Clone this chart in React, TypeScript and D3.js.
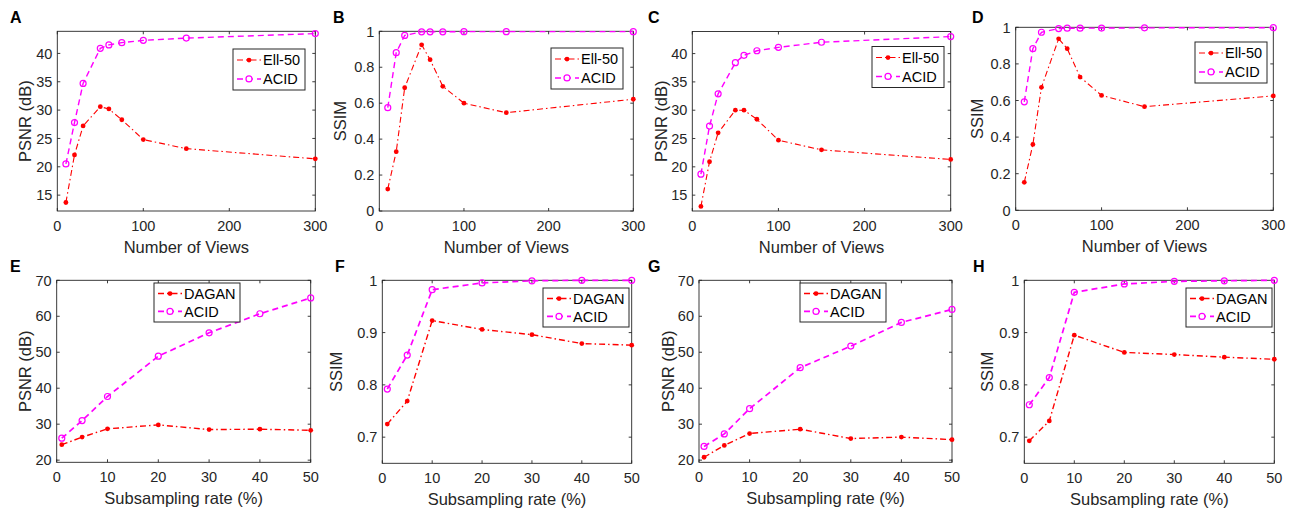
import React from 'react';
import * as d3 from 'd3';

// x values
const views = [10, 20, 30, 50, 60, 75, 100, 150, 300];
const rates = [1, 5, 10, 20, 30, 40, 50];

// A / C : PSNR vs views
const psnrEllA = [13.7, 22.1, 27.2, 30.6, 30.2, 28.3, 24.8, 23.2, 21.4];
const psnrAcidA = [20.5, 27.8, 34.7, 40.9, 41.5, 41.9, 42.3, 42.7, 43.5];
const psnrEllC = [13.0, 20.9, 26.0, 30.0, 30.0, 28.4, 24.7, 23.0, 21.3];
const psnrAcidC = [18.7, 27.2, 32.9, 38.4, 39.7, 40.5, 41.1, 42.0, 43.0];

// B / D : SSIM vs views
const ssimEllB = [0.122, 0.33, 0.686, 0.925, 0.842, 0.694, 0.6, 0.547, 0.622];
const ssimAcidB = [0.575, 0.881, 0.977, 0.997, 0.997, 0.997, 0.998, 0.998, 0.998];
const ssimEllD = [0.153, 0.36, 0.672, 0.937, 0.883, 0.728, 0.628, 0.566, 0.625];
const ssimAcidD = [0.593, 0.883, 0.973, 0.993, 0.995, 0.995, 0.996, 0.997, 0.998];

// E / G : PSNR vs subsampling
const psnrDaganE = [24.3, 26.4, 28.7, 29.8, 28.5, 28.6, 28.3];
const psnrAcidE = [26.1, 31.0, 37.7, 48.9, 55.4, 60.7, 65.1];
const psnrDaganG = [20.8, 24.1, 27.4, 28.6, 26.0, 26.4, 25.7];
const psnrAcidG = [23.8, 27.3, 34.3, 45.7, 51.7, 58.3, 61.9];

// F / H : SSIM vs subsampling
const ssimDaganF = [0.725, 0.769, 0.923, 0.906, 0.896, 0.879, 0.876];
const ssimAcidF = [0.792, 0.857, 0.982, 0.995, 0.999, 1.0, 1.0];
const ssimDaganH = [0.693, 0.731, 0.895, 0.862, 0.858, 0.853, 0.849];
const ssimAcidH = [0.762, 0.814, 0.977, 0.993, 0.998, 0.999, 1.0];

const viewTicks = [0, 100, 200, 300];
const rateTicks = [0, 10, 20, 30, 40, 50];
const psnrTicksTop = [15, 20, 25, 30, 35, 40];
const psnrTicksBottom = [20, 30, 40, 50, 60, 70];
const ssimTicksTop = [0, 0.2, 0.4, 0.6, 0.8, 1];
const ssimTicksBottom = [0.7, 0.8, 0.9, 1];

const AX = '#262626';
const FONT = '"Liberation Sans", Arial, Helvetica, sans-serif';

type PanelProps = {
  letter: string; lx: number; ly: number;
  box: [number, number, number, number]; // left, right, top, bottom
  xDomain: [number, number]; yDomain: [number, number];
  xTicks: number[]; yTicks: number[];
  xs: number[]; red: number[]; pink: number[];
  names: [string, string];
  xLabel: string; yLabel: string; yLabelX: number;
  legend: [number, number, number, number];
  lw: number;
};

function Panel(p: PanelProps) {
  const [l, r, t, b] = p.box;
  const x = d3.scaleLinear().domain(p.xDomain).range([l, r]);
  const y = d3.scaleLinear().domain(p.yDomain).range([b, t]);
  const line = d3.line<number>().x((d, i) => x(p.xs[i])).y(d => y(d));
  const tl = 3;
  const [gx, gy, gw, gh] = p.legend;
  const r1 = gy + gh * 0.27, r2 = gy + gh * 0.73;
  return (
    <g>
      <text x={p.lx} y={p.ly} fontSize={16} fontWeight="bold" fill="#000">{p.letter}</text>
      <rect x={l} y={t} width={r - l} height={b - t} fill="#fff" stroke={AX} strokeWidth={0.9} />
      {p.xTicks.map(v => (
        <g key={'x' + v}>
          <line x1={x(v)} x2={x(v)} y1={b} y2={b - tl} stroke={AX} strokeWidth={0.9} />
          <line x1={x(v)} x2={x(v)} y1={t} y2={t + tl} stroke={AX} strokeWidth={0.9} />
          <text x={x(v)} y={b + 20} fontSize={14.5} textAnchor="middle" fill={AX}>{v}</text>
        </g>
      ))}
      {p.yTicks.map(v => (
        <g key={'y' + v}>
          <line x1={l} x2={l + tl} y1={y(v)} y2={y(v)} stroke={AX} strokeWidth={0.9} />
          <line x1={r} x2={r - tl} y1={y(v)} y2={y(v)} stroke={AX} strokeWidth={0.9} />
          <text x={l - 5} y={y(v)} dy="0.36em" fontSize={14.5} textAnchor="end" fill={AX}>{String(v)}</text>
        </g>
      ))}
      <text x={(l + r) / 2} y={b + 42} fontSize={16.5} textAnchor="middle" fill={AX}>{p.xLabel}</text>
      <text transform={`translate(${p.yLabelX},${(t + b) / 2}) rotate(-90)`} dy="0.36em" fontSize={16.5} textAnchor="middle" fill={AX}>{p.yLabel}</text>

      <path d={line(p.pink) || ''} fill="none" stroke="#ff00ff" strokeWidth={p.lw + 0.3} strokeDasharray="6,4" />
      <path d={line(p.red) || ''} fill="none" stroke="#ff0000" strokeWidth={p.lw} strokeDasharray="6,3,1.5,3" />
      {p.pink.map((d, i) => (
        <circle key={'p' + i} cx={x(p.xs[i])} cy={y(d)} r={3} fill="none" stroke="#ff00ff" strokeWidth={1.2} />
      ))}
      {p.red.map((d, i) => (
        <circle key={'r' + i} cx={x(p.xs[i])} cy={y(d)} r={2.4} fill="#ff0000" />
      ))}

      <rect x={gx} y={gy} width={gw} height={gh} fill="#fff" stroke={AX} strokeWidth={1} />
      <line x1={gx + 4} x2={gx + 28} y1={r1} y2={r1} stroke="#ff0000" strokeWidth={p.lw} strokeDasharray="6,3,1.5,3" />
      <circle cx={gx + 16} cy={r1} r={2.4} fill="#ff0000" />
      <text x={gx + 30} y={r1} dy="0.36em" fontSize={14.5} fill="#000">{p.names[0]}</text>
      <line x1={gx + 4} x2={gx + 28} y1={r2} y2={r2} stroke="#ff00ff" strokeWidth={p.lw + 0.3} strokeDasharray="6,4" />
      <circle cx={gx + 16} cy={r2} r={3} fill="#fff" stroke="#ff00ff" strokeWidth={1.2} />
      <text x={gx + 30} y={r2} dy="0.36em" fontSize={14.5} fill="#000">{p.names[1]}</text>
    </g>
  );
}

export default function App() {
  const ell: [string, string] = ['Ell-50', 'ACID'];
  const dag: [string, string] = ['DAGAN', 'ACID'];
  const nv = 'Number of Views';
  const sr = 'Subsampling rate (%)';
  return (
    <svg width={1294} height={513} style={{ position: 'absolute', left: 0, top: 0, background: '#fff' }} fontFamily={FONT}>
      <rect width={1294} height={513} fill="#fff" />
      <Panel letter="A" lx={10} ly={23} box={[57.3, 315.3, 31.3, 211]} xDomain={[0, 300]} yDomain={[12.2, 43.9]}
        xTicks={viewTicks} yTicks={psnrTicksTop} xs={views} red={psnrEllA} pink={psnrAcidA} names={ell}
        xLabel={nv} yLabel="PSNR (dB)" yLabelX={25} legend={[233, 49, 72, 41]} lw={1.1} />
      <Panel letter="B" lx={333} ly={23} box={[379.3, 633.3, 31.3, 211]} xDomain={[0, 300]} yDomain={[0, 1]}
        xTicks={viewTicks} yTicks={ssimTicksTop} xs={views} red={ssimEllB} pink={ssimAcidB} names={ell}
        xLabel={nv} yLabel="SSIM" yLabelX={340} legend={[551, 48, 72, 41]} lw={1.1} />
      <Panel letter="C" lx={648} ly={23} box={[692.3, 950.7, 31.5, 211]} xDomain={[0, 300]} yDomain={[12.2, 43.9]}
        xTicks={viewTicks} yTicks={psnrTicksTop} xs={views} red={psnrEllC} pink={psnrAcidC} names={ell}
        xLabel={nv} yLabel="PSNR (dB)" yLabelX={661} legend={[872, 46.5, 72, 41]} lw={1.1} />
      <Panel letter="D" lx={972} ly={23} box={[1015.7, 1273.3, 27.3, 210.3]} xDomain={[0, 300]} yDomain={[0, 1]}
        xTicks={viewTicks} yTicks={ssimTicksTop} xs={views} red={ssimEllD} pink={ssimAcidD} names={ell}
        xLabel={nv} yLabel="SSIM" yLabelX={977} legend={[1195, 42, 72, 41]} lw={1.1} />

      <Panel letter="E" lx={10} ly={272} box={[56.7, 310.7, 280.3, 462.3]} xDomain={[0, 50]} yDomain={[19.4, 70]}
        xTicks={rateTicks} yTicks={psnrTicksBottom} xs={rates} red={psnrDaganE} pink={psnrAcidE} names={dag}
        xLabel={sr} yLabel="PSNR (dB)" yLabelX={25} legend={[154, 283, 86, 39]} lw={1.4} />
      <Panel letter="F" lx={335} ly={272} box={[382.3, 631.7, 280.3, 463.3]} xDomain={[0, 50]} yDomain={[0.65, 1]}
        xTicks={rateTicks} yTicks={ssimTicksBottom} xs={rates} red={ssimDaganF} pink={ssimAcidF} names={dag}
        xLabel={sr} yLabel="SSIM" yLabelX={336} legend={[543, 288, 86, 39]} lw={1.4} />
      <Panel letter="G" lx={648} ly={272} box={[699, 952, 280.3, 462.3]} xDomain={[0, 50]} yDomain={[19.4, 70]}
        xTicks={rateTicks} yTicks={psnrTicksBottom} xs={rates} red={psnrDaganG} pink={psnrAcidG} names={dag}
        xLabel={sr} yLabel="PSNR (dB)" yLabelX={668} legend={[800, 283, 86, 39]} lw={1.4} />
      <Panel letter="H" lx={973} ly={272} box={[1024.3, 1274.3, 280.3, 463.3]} xDomain={[0, 50]} yDomain={[0.65, 1]}
        xTicks={rateTicks} yTicks={ssimTicksBottom} xs={rates} red={ssimDaganH} pink={ssimAcidH} names={dag}
        xLabel={sr} yLabel="SSIM" yLabelX={987} legend={[1186, 288, 86, 39]} lw={1.4} />
    </svg>
  );
}
